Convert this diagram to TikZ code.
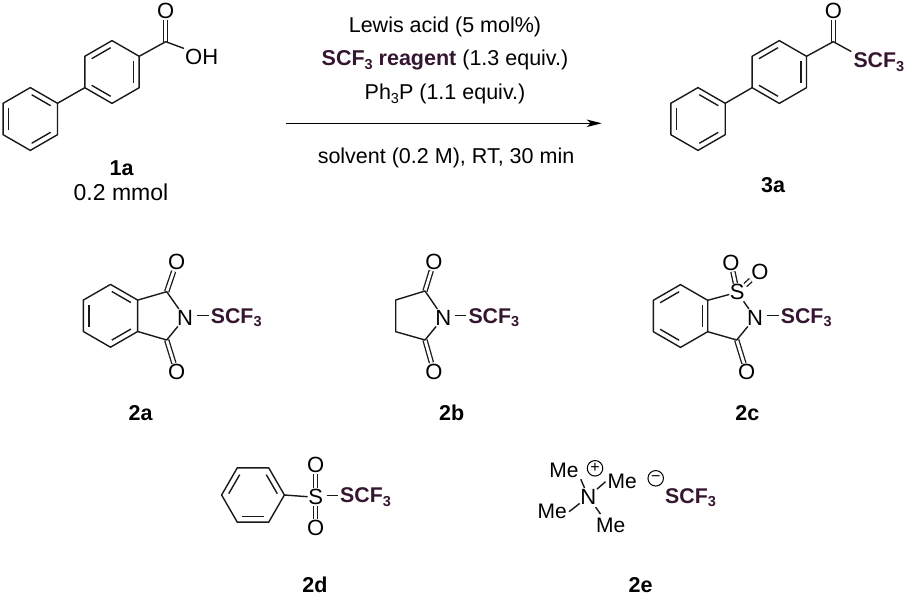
\documentclass[tikz,border=0pt]{standalone}
\usepackage{fontspec}
\setmainfont{Liberation Sans}
\usepackage{xcolor}
\usetikzlibrary{calc,arrows.meta}
\definecolor{scfpurple}{HTML}{351630}
\newcommand{\subthree}{\raisebox{-3.5pt}{\fontsize{14.5}{14.5}\selectfont 3}}
\newcommand{\scfthree}{\textcolor{scfpurple}{\bfseries SCF\subthree}}
% benzene ring, corners named #1-1 ... #1-6, inner lines on 1-2, 3-4, 5-6
\newcommand{\phring}[4]{
    \foreach \k in {1,...,6}
        \coordinate (#1-\k) at ($(#2,#3)+({#4+60*(\k-1)}:31.4)$);
    \draw[bond] (#1-1) -- (#1-2) -- (#1-3) -- (#1-4) -- (#1-5) -- (#1-6) -- cycle;
    \foreach \a/\b in {1/2,3/4,5/6}
        \draw[bond] ($(#1-\a)!.15!(#1-\b)!5.5pt!-90:(#1-\b)$) -- ($(#1-\b)!.15!(#1-\a)!5.5pt!90:(#1-\a)$);
}
\begin{document}
\begin{tikzpicture}[x=1pt,y=-1pt,
    bond/.style={line width=1.4pt,black!90,line join=round},
    dbond/.style={line width=1.3pt,black!90,double,double distance=2.8pt},
    sbond/.style={bond,shorten <=3pt},
    atom/.style={inner xsep=.5pt,inner ysep=1pt,font=\fontsize{22}{24}\selectfont},
    scf/.style={anchor=base west,inner xsep=2pt,inner ysep=1pt,font=\fontsize{21.3}{24}\selectfont},
    me/.style={inner xsep=2pt,inner ysep=1pt,font=\fontsize{21}{24}\selectfont},
    txt/.style={anchor=base,inner sep=0pt,font=\fontsize{21.5}{24}\selectfont},
    cpd/.style={anchor=base,inner sep=0pt,font=\fontsize{21.5}{24}\selectfont\bfseries},
    chg/.style={circle,draw,line width=1pt,inner sep=0pt,minimum size=15.5pt,font=\fontsize{16}{16}\selectfont}]
    \useasboundingbox (0,0) rectangle (908,596);

    % 1a
    \phring{aa}{30.3}{119}{-90}
    \phring{ab}{112}{72}{210}
    \coordinate (ac) at (165.7,41.7);
    \node[atom] (ao) at (165.7,11) {O};
    \node[anchor=base west,inner sep=1pt,font=\fontsize{22}{24}\selectfont] (aoh) at (184,65) {OH};
    \draw[dbond] (ao) -- (ac);
    \draw[bond] (aa-2) -- (ab-6);
    \draw[bond] (ab-3) -- (ac) -- (aoh.north west);
    \node[cpd] (la) at (121.7,176) {1a};
    \node[txt,font=\fontsize{23}{24}\selectfont] (lamount) at (121,200.7) {0.2 mmol};

    % conditions
    \coordinate (arrowstart) at (286,123.3);
    \coordinate (arrowend) at (601.7,123.3);
    \draw[line width=1.2pt,-{Stealth[length=15pt,width=7.5pt,inset=4pt]}] (arrowstart) -- (arrowend);
    \node[txt] (cond1) at (445,33) {Lewis acid (5 mol\%)};
    \node[txt] (cond2) at (445,66) {\scfthree\textcolor{scfpurple}{\bfseries{} reagent} (1.3 equiv.)};
    \node[txt] (cond3) at (445,100) {Ph\subthree P (1.1 equiv.)};
    \node[txt] (cond4) at (446,164) {solvent (0.2 M), RT, 30 min};

    % 3a
    \phring{ba}{698}{119}{-90}
    \phring{bb}{779.3}{72}{210}
    \coordinate (bc) at (833.3,41.7);
    \node[atom] (bo) at (833.3,11) {O};
    \node[scf] (bs) at (851.3,67.7) {\scfthree};
    \draw[dbond] (bo) -- (bc);
    \draw[bond] (ba-2) -- (bb-6);
    \draw[bond] (bb-3) -- (bc) -- (bs.north west);
    \node[cpd] (lb) at (773,192.3) {3a};

    % 2a
    \phring{ca}{110.5}{315.8}{-90}
    \coordinate (cc1) at (166.7,291.7);
    \coordinate (cc2) at (166.7,340);
    \node[atom] (cn) at (185,317.7) {N};
    \node[atom] (co1) at (176.7,262.3) {O};
    \node[atom] (co2) at (176.7,372.3) {O};
    \node[scf] (cs) at (208.7,323.3) {\scfthree};
    \draw[dbond] (co1) -- (cc1);
    \draw[dbond] (co2) -- (cc2);
    \draw[bond] (ca-2) -- (cc1) -- (cn) -- (cc2) -- (ca-3);
    \draw[sbond] (cn.13) -- (cn.13 -| cs.west);
    \node[cpd] (lc) at (140.7,420) {2a};

    % 2b
    \coordinate (dh1) at (395.7,300);
    \coordinate (dh2) at (395.7,331.7);
    \coordinate (dc1) at (425,291);
    \coordinate (dc2) at (425,340);
    \node[atom] (dn) at (443.3,317.7) {N};
    \node[atom] (do1) at (434,261.7) {O};
    \node[atom] (do2) at (434,371.7) {O};
    \node[scf] (ds) at (466.3,323.3) {\scfthree};
    \draw[dbond] (do1) -- (dc1);
    \draw[dbond] (do2) -- (dc2);
    \draw[bond] (dn) -- (dc1) -- (dh1) -- (dh2) -- (dc2) -- (dn);
    \draw[sbond] (dn.13) -- (dn.13 -| ds.west);
    \node[cpd] (ld) at (451.7,420) {2b};

    % 2c
    \phring{ea}{680.5}{316}{210}
    \coordinate (ec) at (736.7,340);
    \node[atom] (es) at (737.3,292.3) {S};
    \node[atom] (en) at (755,317.7) {N};
    \node[atom] (eo1) at (731,262.7) {O};
    \node[atom] (eo2) at (760,271.7) {O};
    \node[atom] (eo3) at (746.7,372.3) {O};
    \node[scf] (ess) at (778.7,323.3) {\scfthree};
    \draw[dbond] (es) -- (eo1);
    \draw[dbond] (es) -- (eo2);
    \draw[dbond] (eo3) -- (ec);
    \draw[bond] (ea-3) -- (es) -- (en) -- (ec) -- (ea-4);
    \draw[sbond] (en.13) -- (en.13 -| ess.west);
    \node[cpd] (le) at (747.3,420) {2c};

    % 2d
    \phring{fa}{253}{495}{-180}
    \node[atom] (fs) at (315.7,497.3) {S};
    \node[atom] (fo1) at (315.7,465) {O};
    \node[atom] (fo2) at (315.7,528.3) {O};
    \node[scf] (fss) at (338,502.8) {\scfthree};
    \draw[dbond] (fs) -- (fo1);
    \draw[dbond] (fs) -- (fo2);
    \draw[bond] (fa-4) -- (fs);
    \draw[sbond] (fs.13) -- (fs.13 -| fss.west);
    \node[cpd] (lf) at (315,592.7) {2d};

    % 2e
    \node[atom] (gn) at (588.3,496.7) {N};
    \node[me] (gm1) at (564,470.7) {Me};
    \node[me] (gm2) at (622.3,481.7) {Me};
    \node[me] (gm3) at (552.3,511.7) {Me};
    \node[me] (gm4) at (610.7,525) {Me};
    \draw[bond] (gn) -- (gm1.south east);
    \draw[bond] (gn) -- (gm2.west);
    \draw[bond] (gn) -- (gm3.east);
    \draw[bond,shorten <=2pt,shorten >=3pt] (gn) -- (gm4.135);
    \node[chg] (gplus) at (595,468.3) {+};
    \node[chg] (gminus) at (655.7,478.3) {−};
    \node[scf] (gs) at (663,503) {\scfthree};
    \node[cpd] (lg) at (640.7,592.7) {2e};
\end{tikzpicture}
\end{document}
